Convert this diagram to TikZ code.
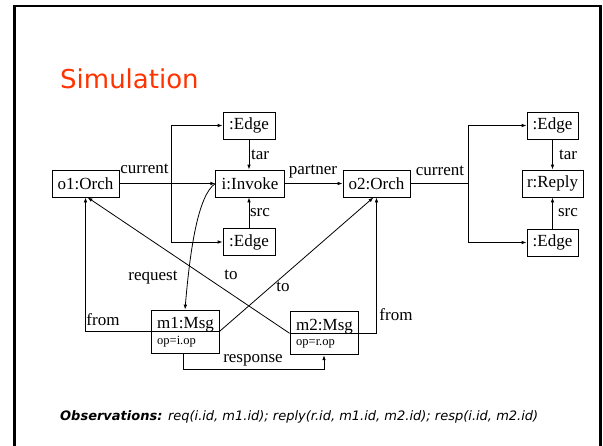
\documentclass[tikz,border=0pt]{standalone}
\usepackage{fontspec}
\usepackage{graphicx}
\setmainfont{Liberation Serif}
\newfontfamily\slidefont{DejaVu Sans}
\usetikzlibrary{arrows.meta}
\definecolor{slidered}{RGB}{255,51,0}

\begin{document}
\begin{tikzpicture}[x=1pt,y=-1pt,
  objbox/.style={draw, line width=0.8pt, inner sep=0pt, minimum height=27pt,
                 font=\fontsize{17}{20}\selectfont},
  msgbox/.style={draw, line width=0.8pt, inner sep=0pt, minimum width=68pt, minimum height=43pt},
  msgtitle/.style={anchor=base west, inner sep=0pt, font=\fontsize{17}{20}\selectfont},
  msgattr/.style={anchor=base west, inner sep=0pt, font=\fontsize{12.5}{15}\selectfont},
  lbl/.style={inner sep=0pt, font=\fontsize{17}{20}\selectfont},
  wire/.style={line width=0.8pt},
  link/.style={line width=0.8pt, -{Latex[length=5pt,width=3.6pt]}}]

\useasboundingbox (0,0) rectangle (603,445);

% slide frame
\draw[line width=2.5pt] (14.5,6) rectangle (600.5,470);

% title
\node[anchor=base west, inner sep=0pt, text=slidered,
      font=\slidefont\fontsize{26}{30}\selectfont] (title) at (60,88) {Simulation};

% object boxes
\node[objbox, minimum width=67pt]   (o1)  at (85.5,183.5) {o1:Orch};
\node[objbox, minimum width=52pt]   (e1)  at (249,125.5)  {:Edge};
\node[objbox, minimum width=68.5pt] (inv) at (250,183.5)  {i:Invoke};
\node[objbox, minimum width=52pt]   (e2)  at (249,242)    {:Edge};
\node[objbox, minimum width=67pt]   (o2)  at (376.5,183.5){o2:Orch};
\node[objbox, minimum width=51pt]   (e3)  at (552.5,125.5){:Edge};
\node[objbox, minimum width=61pt]   (rep) at (552.5,183.5){r:Reply};
\node[objbox, minimum width=51pt]   (e4)  at (552.5,242.5){:Edge};

% message boxes with a title part and an attribute part
\node[msgbox] (m1) at (185,331.5) {};
\draw[wire] (m1.west) -- (m1.east);
\node[msgtitle] (m1t) at (157,328.5) {m1:Msg};
\node[msgattr]  (m1a) at (157,344)   {op=i.op};

\node[msgbox] (m2) at (324,333.3) {};
\draw[wire] (m2.west) -- (m2.east);
\node[msgtitle] (m2t) at (296,330.5) {m2:Msg};
\node[msgattr]  (m2a) at (296,345.5) {op=r.op};

% current edges of o1
\coordinate (b1) at (171,183.5);
\draw[link] (o1.east) -- (inv.west);
\draw[link] (b1) |- (e1.west);
\draw[link] (b1) |- (e2.west);
\draw[link] (e1.south) -- (e1.south |- inv.north);
\draw[link] (e2.north) -- (e2.north |- inv.south);

% partner
\draw[link] (inv.east) -- (o2.west);

% current edges of o2
\coordinate (b2) at (468,183.5);
\draw[wire] (o2.east) -- (b2);
\draw[link] (b2) |- (e3.west);
\draw[link] (b2) |- (e4.west);
\draw[link] (e3.south) -- (rep.north);
\draw[link] (e4.north) -- (rep.south);

% request
\draw[link] (inv.west) .. controls (198,195) and (190,250) .. (m1.north);

% from / to
\draw[link] (m1.west) -| (o1.south);
\draw[link] (m2.east) -| (o2.south);
\draw[link] (m2.west) -- ([xshift=2pt]o1.south);
\draw[link] (m1.east) -- ([xshift=-3pt]o2.south);

% response
\draw[link] ([xshift=-2pt]m1.south) -- ++(0,16) -| (m2.south);

% labels
\node[lbl] (lcur1) at (144.5,169) {current};
\node[lbl] (ltar1) at (260,155)   {tar};
\node[lbl] (lsrc1) at (260,213)   {src};
\node[lbl] (lpart) at (313,172)   {partner};
\node[lbl] (lcur2) at (440,171)   {current};
\node[lbl] (ltar2) at (568,155)   {tar};
\node[lbl] (lsrc2) at (568,213)   {src};
\node[lbl] (lreq)  at (153,278)   {request};
\node[lbl] (lto1)  at (231,275)   {to};
\node[lbl] (lto2)  at (283,287)   {to};
\node[lbl] (lfr1)  at (103,320)   {from};
\node[lbl] (lfr2)  at (396,315)   {from};
\node[lbl] (lresp) at (253,360)   {response};

% observations line
\node[anchor=base west, inner sep=0pt] (obs) at (60,420)
  {\resizebox{478pt}{!}{\slidefont{\bfseries\itshape Observations:} {\itshape req(i.id, m1.id); reply(r.id, m1.id, m2.id); resp(i.id, m2.id)}}};
\end{tikzpicture}
\end{document}
